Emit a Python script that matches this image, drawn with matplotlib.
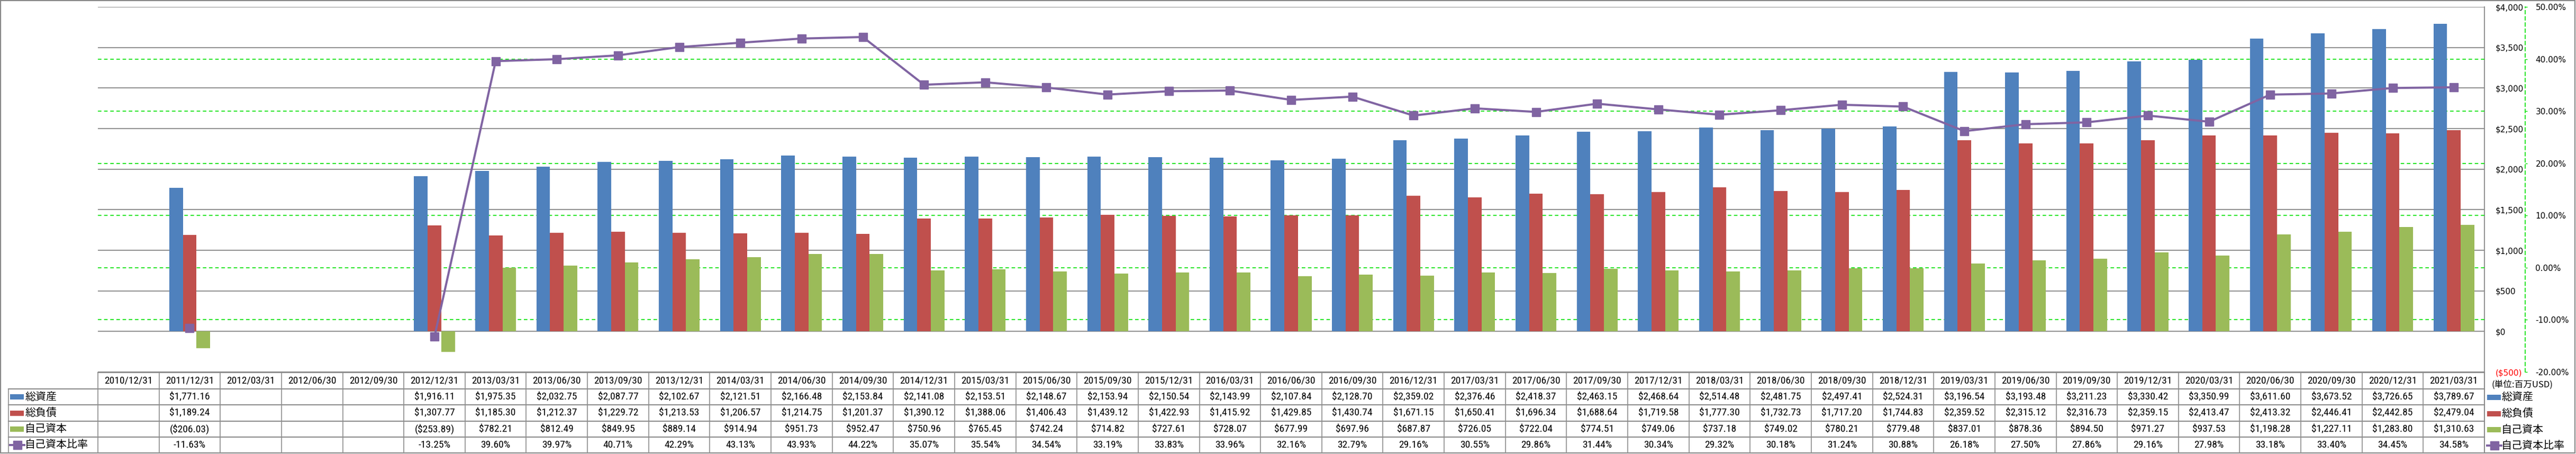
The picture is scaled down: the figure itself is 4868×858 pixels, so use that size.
import numpy as np
import matplotlib
matplotlib.use('Agg')
import matplotlib.pyplot as plt
from matplotlib import font_manager
from matplotlib.transforms import blended_transform_factory

dates = ['2010/12/31', '2011/12/31', '2012/03/31', '2012/06/30', '2012/09/30', '2012/12/31',
         '2013/03/31', '2013/06/30', '2013/09/30', '2013/12/31',
         '2014/03/31', '2014/06/30', '2014/09/30', '2014/12/31',
         '2015/03/31', '2015/06/30', '2015/09/30', '2015/12/31',
         '2016/03/31', '2016/06/30', '2016/09/30', '2016/12/31',
         '2017/03/31', '2017/06/30', '2017/09/30', '2017/12/31',
         '2018/03/31', '2018/06/30', '2018/09/30', '2018/12/31',
         '2019/03/31', '2019/06/30', '2019/09/30', '2019/12/31',
         '2020/03/31', '2020/06/30', '2020/09/30', '2020/12/31', '2021/03/31']

total_assets = [None, 1771.16, None, None, None, 1916.11, 1975.35, 2032.75, 2087.77, 2102.67,
                2121.51, 2166.48, 2153.84, 2141.08, 2153.51, 2148.67, 2153.94, 2150.54,
                2143.99, 2107.84, 2128.70, 2359.02, 2376.46, 2418.37, 2463.15, 2468.64,
                2514.48, 2481.75, 2497.41, 2524.31, 3196.54, 3193.48, 3211.23, 3330.42,
                3350.99, 3611.60, 3673.52, 3726.65, 3789.67]

total_liab = [None, 1189.24, None, None, None, 1307.77, 1185.30, 1212.37, 1229.72, 1213.53,
              1206.57, 1214.75, 1201.37, 1390.12, 1388.06, 1406.43, 1439.12, 1422.93,
              1415.92, 1429.85, 1430.74, 1671.15, 1650.41, 1696.34, 1688.64, 1719.58,
              1777.30, 1732.73, 1717.20, 1744.83, 2359.52, 2315.12, 2316.73, 2359.15,
              2413.47, 2413.32, 2446.41, 2442.85, 2479.04]

equity = [None, -206.03, None, None, None, -253.89, 782.21, 812.49, 849.95, 889.14,
          914.94, 951.73, 952.47, 750.96, 765.45, 742.24, 714.82, 727.61,
          728.07, 677.99, 697.96, 687.87, 726.05, 722.04, 774.51, 749.06,
          737.18, 749.02, 780.21, 779.48, 837.01, 878.36, 894.50, 971.27,
          937.53, 1198.28, 1227.11, 1283.80, 1310.63]

equity_ratio = [None, -11.63, None, None, None, -13.25, 39.60, 39.97, 40.71, 42.29,
                43.13, 43.93, 44.22, 35.07, 35.54, 34.54, 33.19, 33.83,
                33.96, 32.16, 32.79, 29.16, 30.55, 29.86, 31.44, 30.34,
                29.32, 30.18, 31.24, 30.88, 26.18, 27.50, 27.86, 29.16,
                27.98, 33.18, 33.40, 34.45, 34.58]

series_names = ['総資産', '総負債', '自己資本', '自己資本比率']
unit_label = '(単位:百万USD)'
usd_ticks = [-500, 0, 500, 1000, 1500, 2000, 2500, 3000, 3500, 4000]
pct_ticks = [-20, -10, 0, 10, 20, 30, 40, 50]

colors = ['#4F81BD', '#C0504D', '#9BBB59', '#8064A2']
grid_gray = '#868686'
green = '#00e000'

# pick a narrow font for the table if there is one
names = {f.name for f in font_manager.fontManager.ttflist}
narrow = None
for n in ['Liberation Sans Narrow', 'Roboto Condensed', 'DejaVu Sans Condensed', 'Open Sans Condensed']:
    if n in names:
        narrow = n
        break
if narrow:
    tbl_font, tbl_size = narrow, 14
else:
    tbl_font, tbl_size = 'Liberation Sans', 12.5
cjk = ['Noto Sans CJK JP', 'DejaVu Sans']

def fmt_usd(v):
    if v is None:
        return ''
    return f'${v:,.2f}' if v >= 0 else f'(${-v:,.2f})'

def fmt_pct(v):
    return '' if v is None else f'{v:.2f}%'

W, H = 4868, 858
fig = plt.figure(figsize=(W / 100, H / 100), dpi=100)

# overlay axes in pixel coordinates for table, legend and frame
bg = fig.add_axes([0, 0, 1, 1])
bg.set_xlim(0, W)
bg.set_ylim(H, 0)
bg.axis('off')

L, R, T, B = 185, 4695, 13, 703
ax = fig.add_axes([L / W, 1 - B / H, (R - L) / W, (B - T) / H])
ax.patch.set_visible(False)
ax2 = ax.twinx()

n = len(dates)
x = np.arange(n)
bw = 1 / 4.5
for k, vals in enumerate([total_assets, total_liab, equity]):
    v = np.array(vals, dtype=float)
    m = ~np.isnan(v)
    ax.bar(x[m] + (k - 1) * bw, v[m], bw, color=colors[k], zorder=3)

# secondary gridlines, drawn under the bars
trans = blended_transform_factory(ax.transAxes, ax2.transData)
for p in pct_ticks[1:-1]:
    ax.plot([0, 1], [p, p], transform=trans, color=green, lw=1.2, ls=(0, (4, 3)), zorder=1)

ax.set_xlim(-0.5, n - 0.5)
ax.set_ylim(usd_ticks[0], usd_ticks[-1])
ax.set_xticks([])
ax.set_yticks(usd_ticks, [fmt_usd(t).replace('.00', '') for t in usd_ticks])
ax.yaxis.tick_right()
ax.tick_params(axis='y', length=0, pad=15, labelsize=11)
ax.grid(axis='y', color=grid_gray, lw=1.3, zorder=0)
ax.set_axisbelow(True)
for s in ax.spines.values():
    s.set_visible(False)
for t, tk in zip(usd_ticks, ax.yaxis.get_major_ticks()):
    if t < 0:
        tk.label2.set_color('red')

ax2.set_ylim(pct_ticks[0], pct_ticks[-1])
ax2.set_yticks(pct_ticks, [f'{t:.2f}%' for t in pct_ticks])
ax2.tick_params(axis='y', length=3, width=1, color=green, pad=11, labelsize=11)
for t, tk in zip(pct_ticks, ax2.yaxis.get_major_ticks()):
    if t < 0:
        tk.label2.set_color('red')
for side in ['left', 'top', 'bottom']:
    ax2.spines[side].set_visible(False)
ax2.spines['right'].set_position(('outward', 77 * 0.72))
ax2.spines['right'].set_color(green)
ax2.spines['right'].set_linestyle((0, (4, 3)))
ax2.spines['right'].set_linewidth(1.2)

r = np.array(equity_ratio, dtype=float)
ax2.plot(x, r, color=colors[3], lw=2.9, marker='s', ms=12, mfc=colors[3], mec=colors[3],
         solid_capstyle='round', zorder=5)

# data table
col_w = (R - L) / n
row_y = [704, 735, 765, 796, 826, 856]
lc = '#8c8c8c'
bg.plot([L, R], [row_y[0], row_y[0]], color=lc, lw=1.5)
for y in row_y[1:]:
    bg.plot([16, R], [y, y], color=lc, lw=1.5)
for i in range(n + 1):
    bg.plot([L + i * col_w] * 2, [row_y[0], row_y[-1]], color=lc, lw=1.2)
bg.plot([16, 16], [row_y[1], row_y[-1]], color=lc, lw=1.2)
bg.plot([R, R], [T, row_y[-1]], color=grid_gray, lw=1.3)

rows = [[fmt_usd(v) for v in total_assets],
        [fmt_usd(v) for v in total_liab],
        [fmt_usd(v) for v in equity],
        [fmt_pct(v) for v in equity_ratio]]
for i, d in enumerate(dates):
    cx = L + (i + 0.5) * col_w
    bg.text(cx, (row_y[0] + row_y[1]) / 2, d, ha='center', va='center',
            family=tbl_font, fontsize=tbl_size)
    for j, row in enumerate(rows):
        bg.text(cx, (row_y[j + 1] + row_y[j + 2]) / 2, row[i], ha='center', va='center',
                family=tbl_font, fontsize=tbl_size)

def legend_key(x0, yc, k):
    if k < 3:
        bg.add_patch(plt.Rectangle((x0, yc - 5), 26, 10, color=colors[k], lw=0))
    else:
        bg.plot([x0, x0 + 27], [yc, yc], color=colors[3], lw=2.9)
        bg.plot([x0 + 13.5], [yc], marker='s', ms=11, color=colors[3])

for j, name in enumerate(series_names):
    yc = (row_y[j + 1] + row_y[j + 2]) / 2
    legend_key(19, yc, j)
    bg.text(47, yc, name, ha='left', va='center', family=cjk, fontsize=14.4)
    legend_key(4700, yc + 1, j)
    bg.text(4727, yc + 1, name, ha='left', va='center', family=cjk, fontsize=14.4)

bg.text(4709, 727, unit_label, ha='left', va='center', family=cjk, fontsize=12)

# outer frame
bg.add_patch(plt.Rectangle((1, 1), W - 3, H - 3, fill=False, ec=grid_gray, lw=1.5))

fig.savefig('out.png', dpi=100)
